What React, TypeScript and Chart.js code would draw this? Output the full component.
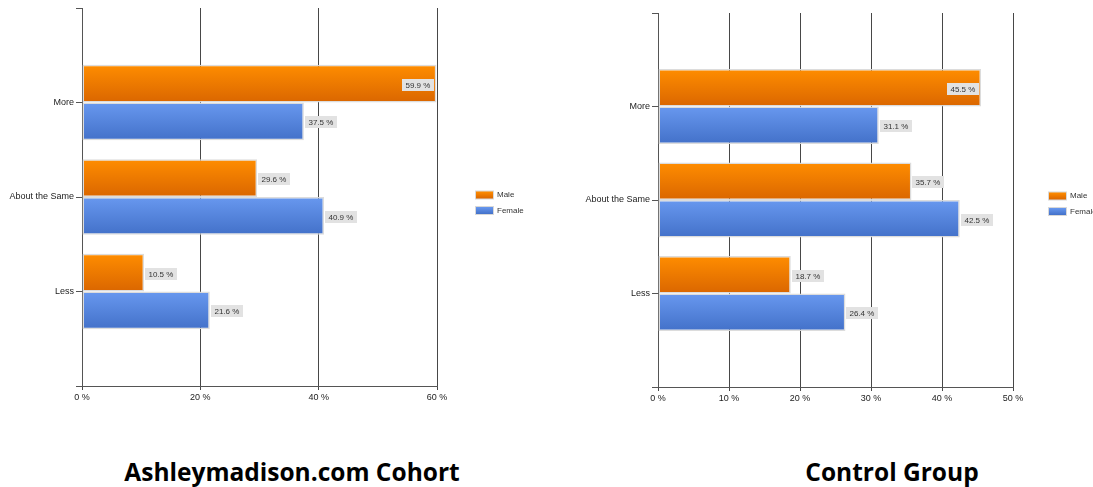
import React, { useEffect, useRef } from 'react';
import { Chart, registerables } from 'chart.js';

Chart.register(...registerables);

// ---- data ----
const categories = ['More', 'About the Same', 'Less'];
const seriesNames = ['Male', 'Female'];
const cohortMale = [59.9, 29.6, 10.5];
const cohortFemale = [37.5, 40.9, 21.6];
const controlMale = [45.5, 35.7, 18.7];
const controlFemale = [31.1, 42.5, 26.4];
const cohortAxisMax = 60;
const cohortAxisStep = 20;
const controlAxisMax = 50;
const controlAxisStep = 10;
const panelTitles = ['Ashleymadison.com Cohort', 'Control Group'];

// ---- style ----
const FONT = "'Liberation Sans', Arial, sans-serif";
const gradientStops = [
  ['#FF8D00', '#DA6600'],
  ['#6898EF', '#4371C9'],
];
const CAT_PCT = 0.8;

const barFill = (dsIndex: number) => (c: any) => {
  const chart = c.chart;
  const [top, bot] = gradientStops[dsIndex];
  if (c.type !== 'data' || !chart.scales || !chart.scales.y) return top;
  const y = chart.scales.y;
  const step = y.getPixelForValue(2) - y.getPixelForValue(1);
  const center = y.getPixelForValue(c.dataIndex);
  if (!isFinite(step) || !isFinite(center) || step <= 0) return top;
  const h = (step * CAT_PCT) / 2;
  const y0 = dsIndex === 0 ? center - h : center;
  const g = chart.ctx.createLinearGradient(0, y0, 0, y0 + h);
  g.addColorStop(0, top);
  g.addColorStop(1, bot);
  return g;
};

const valueLabels = {
  id: 'valueLabels',
  afterDatasetsDraw(chart: any, _args: any, opts: any) {
    const ctx = chart.ctx;
    ctx.save();
    ctx.font = `8px ${FONT}`;
    ctx.textBaseline = 'middle';
    ctx.textAlign = 'left';
    chart.data.datasets.forEach((ds: any, di: number) => {
      const meta = chart.getDatasetMeta(di);
      meta.data.forEach((el: any, i: number) => {
        const v = ds.data[i];
        if (v == null) return;
        const text = v.toFixed(1) + ' %';
        const w = ctx.measureText(text).width;
        const bw = Math.round(w + 7);
        const bh = 12;
        const inside = v / opts.max > 0.88;
        const bx = Math.round(inside ? el.x - 2 - bw : el.x + 1);
        const by = Math.round(el.y - bh / 2 + 1);
        ctx.fillStyle = '#E2E2E2';
        ctx.fillRect(bx, by, bw, bh);
        ctx.fillStyle = '#333';
        ctx.fillText(text, bx + 3.5, by + bh / 2 + 0.5);
      });
    });
    ctx.restore();
  },
};

const sideLegend = {
  id: 'sideLegend',
  afterDraw(chart: any, _args: any, opts: any) {
    const ctx = chart.ctx;
    const a = chart.chartArea;
    const x = a.right + opts.dx;
    const cy = (a.top + a.bottom) / 2 + opts.dy;
    ctx.save();
    ctx.font = `8px ${FONT}`;
    ctx.textBaseline = 'middle';
    ctx.textAlign = 'left';
    chart.data.datasets.forEach((ds: any, di: number) => {
      const yc = cy + di * 15.5;
      const [top, bot] = gradientStops[di];
      ctx.fillStyle = '#D8D8D8';
      ctx.fillRect(x - 1, yc - 4.5, 19, 9);
      const g = ctx.createLinearGradient(0, yc - 3.5, 0, yc + 3.5);
      g.addColorStop(0, top);
      g.addColorStop(1, bot);
      ctx.fillStyle = g;
      ctx.fillRect(x, yc - 3.5, 17, 7);
      ctx.fillStyle = '#333';
      ctx.fillText(ds.label, x + 21, yc);
    });
    ctx.restore();
  },
};

type PanelProps = {
  male: number[];
  female: number[];
  max: number;
  step: number;
  width: number;
  height: number;
  area: { left: number; top: number; right: number; bottom: number };
  legend: { dx: number; dy: number };
};

function BarPanel(p: PanelProps) {
  const ref = useRef<HTMLCanvasElement | null>(null);
  useEffect(() => {
    if (!ref.current) return;
    const labels = ['', ...categories, ''];
    const chart = new Chart(ref.current, {
      type: 'bar',
      data: {
        labels,
        datasets: [
          {
            label: seriesNames[0],
            data: [null, ...p.male, null],
            backgroundColor: barFill(0),
            borderColor: 'rgba(218,218,218,0.95)',
            borderWidth: 1.5,
            borderSkipped: false,
          },
          {
            label: seriesNames[1],
            data: [null, ...p.female, null],
            backgroundColor: barFill(1),
            borderColor: 'rgba(218,218,218,0.95)',
            borderWidth: 1.5,
            borderSkipped: false,
          },
        ],
      } as any,
      options: {
        indexAxis: 'y',
        responsive: false,
        animation: false,
        events: [],
        datasets: { bar: { categoryPercentage: CAT_PCT, barPercentage: 1 } } as any,
        layout: {
          padding: { left: 0, top: p.area.top, right: p.width - p.area.right, bottom: 0 },
        },
        scales: {
          x: {
            type: 'linear',
            min: 0,
            max: p.max,
            afterFit: (s: any) => {
              s.height = p.height - p.area.bottom;
            },
            ticks: {
              stepSize: p.step,
              callback: (v: any) => `${v} %`,
              font: { size: 9, family: FONT },
              color: '#222',
              padding: 2,
            },
            grid: { color: '#474747', lineWidth: 1, tickLength: 4, drawTicks: true },
            border: { display: true, color: '#555', width: 1 },
          },
          y: {
            type: 'category',
            offset: false,
            afterFit: (s: any) => {
              s.width = p.area.left;
            },
            ticks: {
              autoSkip: false,
              font: { size: 9, family: FONT },
              color: '#222',
              padding: 2,
            },
            grid: {
              offset: false,
              drawOnChartArea: false,
              drawTicks: true,
              tickLength: 6,
              color: '#555',
            },
            border: { display: true, color: '#555', width: 1 },
          },
        },
        plugins: {
          legend: { display: false },
          tooltip: { enabled: false },
          title: { display: false },
          valueLabels: { max: p.max },
          sideLegend: { dx: p.legend.dx, dy: p.legend.dy },
        } as any,
      },
      plugins: [valueLabels, sideLegend],
    } as any);
    return () => chart.destroy();
  }, []);
  return <canvas ref={ref} width={p.width} height={p.height} style={{ display: 'block' }} />;
}

export default function App() {
  const titleStyle: React.CSSProperties = {
    position: 'absolute',
    top: 460,
    width: 400,
    textAlign: 'center',
    fontFamily: "'Open Sans', 'Noto Sans', sans-serif",
    fontWeight: 700,
    fontSize: 24.5,
    lineHeight: '24px',
    color: '#000',
    whiteSpace: 'nowrap',
  };
  return (
    <div
      style={{
        position: 'fixed',
        left: 0,
        top: 0,
        width: 1093,
        height: 487,
        background: '#fff',
        overflow: 'hidden',
      }}
    >
      <div style={{ position: 'absolute', left: 0, top: 0 }}>
        <BarPanel
          male={cohortMale}
          female={cohortFemale}
          max={cohortAxisMax}
          step={cohortAxisStep}
          width={546}
          height={420}
          area={{ left: 82, top: 8, right: 437, bottom: 386 }}
          legend={{ dx: 39, dy: -2 }}
        />
      </div>
      <div style={{ position: 'absolute', left: 546, top: 0 }}>
        <BarPanel
          male={controlMale}
          female={controlFemale}
          max={controlAxisMax}
          step={controlAxisStep}
          width={547}
          height={420}
          area={{ left: 112, top: 13, right: 467, bottom: 387 }}
          legend={{ dx: 36, dy: -4 }}
        />
      </div>
      <div style={{ ...titleStyle, left: 92 }}>{panelTitles[0]}</div>
      <div style={{ ...titleStyle, left: 692 }}>{panelTitles[1]}</div>
    </div>
  );
}
